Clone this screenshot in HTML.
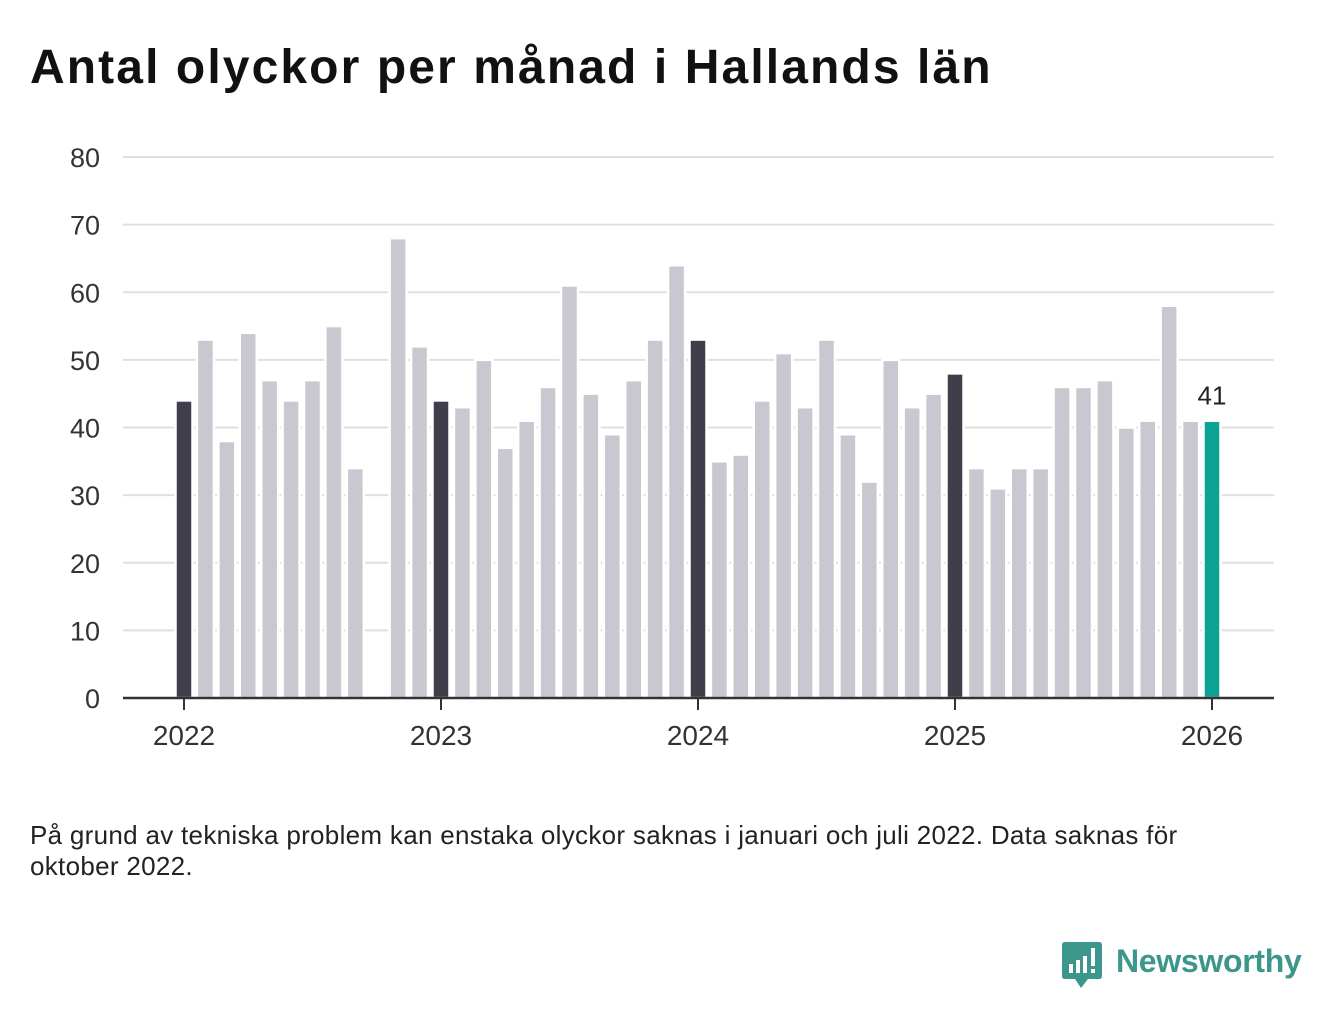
<!DOCTYPE html>
<html><head><meta charset="utf-8"><style>
body{margin:0;background:#fff;width:1340px;height:1020px;overflow:hidden;font-family:"Liberation Sans",sans-serif}
h1{position:absolute;left:30px;top:40px;margin:0;font-size:48px;font-weight:bold;color:#111;letter-spacing:2.1px;white-space:nowrap}
.note{position:absolute;left:30px;top:820px;font-size:26px;line-height:31px;color:#222;width:1240px;letter-spacing:0.3px}
.logo{position:absolute;left:1062px;top:942px}
.logo span{position:absolute;left:54px;top:1px;font-size:32px;font-weight:bold;color:#3d968c;white-space:nowrap;letter-spacing:-0.3px}
</style></head><body>
<h1>Antal olyckor per månad i Hallands län</h1>
<svg id="chart" width="1340" height="800" style="position:absolute;left:0;top:0"></svg>
<div class="note">På grund av tekniska problem kan enstaka olyckor saknas i januari och juli 2022. Data saknas för oktober 2022.</div>
<div class="logo">
<svg width="42" height="50"><path d="M3 0H37Q40 0 40 3V34Q40 37 37 37H26L19 46L13 37H3Q0 37 0 34V3Q0 0 3 0Z" fill="#3d968c"/><rect x="7" y="22" width="4" height="9" fill="#fff"/><rect x="14" y="18" width="4" height="13" fill="#fff"/><rect x="21" y="14" width="4" height="17" fill="#fff"/><rect x="29" y="6" width="4" height="18" fill="#fff"/><rect x="29" y="27" width="4" height="4" fill="#fff"/></svg>
<span>Newsworthy</span></div>
<script>
const values=[44,53,38,54,47,44,47,55,34,null,68,52,
44,43,50,37,41,46,61,45,39,47,53,64,
53,35,36,44,51,43,53,39,32,50,43,45,
48,34,31,34,34,46,46,47,40,41,58,41,
41];
const yTicks=[0,10,20,30,40,50,60,70,80];
const yearLabels=["2022","2023","2024","2025","2026"];
const svg=document.getElementById('chart');
const NS='http://www.w3.org/2000/svg';
const x0=184,mw=257/12,y0=698,yk=(698-157)/80;
const X=i=>x0+i*mw, Y=v=>y0-v*yk;
function mk(t,a){const e=document.createElementNS(NS,t);for(const k in a)e.setAttribute(k,a[k]);svg.appendChild(e);return e;}
yTicks.forEach(v=>{
 if(v>0){const l=mk('line',{x1:123,x2:1274,y1:Y(v),y2:Y(v),stroke:'#e0e0e0','stroke-width':2});
 
 }
 const t=mk('text',{x:100,y:Y(v)+10,'text-anchor':'end','font-size':27,fill:'#333'});
 
 
 t.textContent=v;
});
values.forEach((v,i)=>{
 if(v==null)return;
 const c=i==values.length-1?'#0aa394':(i%12==0?'#3f3f4b':'#c8c8d0');
 const r=mk('rect',{x:X(i)-8.5,y:Y(v),width:17,height:v*yk,fill:c,stroke:'#fff','stroke-width':2.5});
 
 
});
const last=values.length-1;
const lb=mk('text',{x:X(last),y:Y(values[last])-16,'text-anchor':'middle','font-size':26,fill:'#222'});


lb.textContent=values[last];
const ax=mk('line',{x1:123,x2:1274,y1:y0,y2:y0,stroke:'#333','stroke-width':2.5});


yearLabels.forEach((s,k)=>{
 const x=X(k*12);
 const tk=mk('line',{x1:x,x2:x,y1:y0,y2:y0+12,stroke:'#333','stroke-width':2});
 
 
 const t=mk('text',{x:x,y:745,'text-anchor':'middle','font-size':28,fill:'#333'});
 
 
 t.textContent=s;
});
</script>
</body></html>
